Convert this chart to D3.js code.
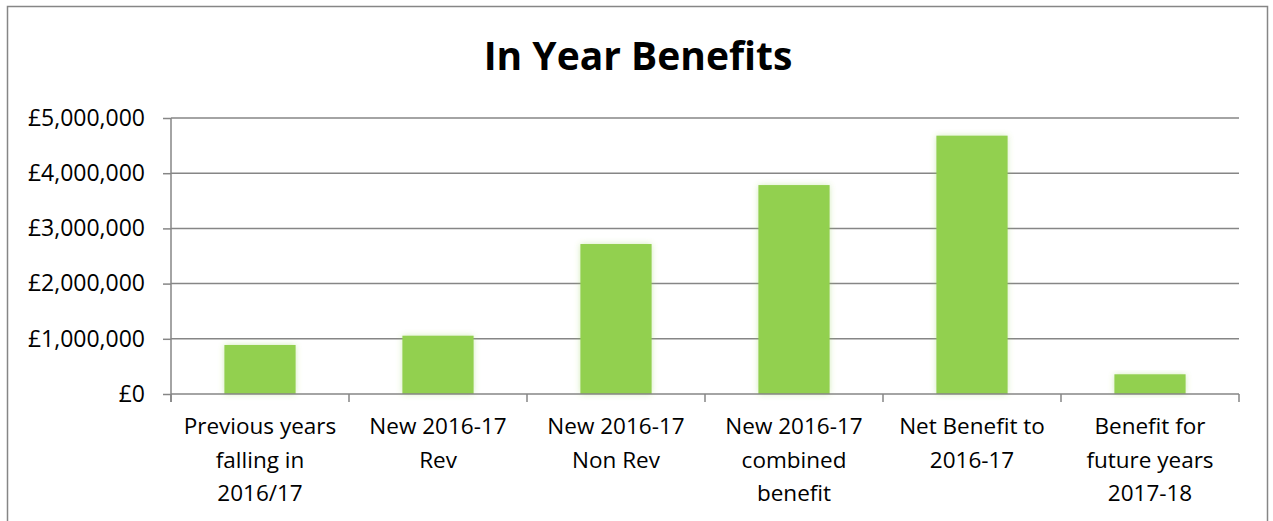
<!DOCTYPE html>
<html>
<head>
<meta charset="utf-8">
<script src="https://cdn.jsdelivr.net/npm/d3@7"></script>
<style>
	body { margin: 0; background: #fff; }
	svg text { font-family: "Open Sans", sans-serif; fill: #000; }
	.axis path, .axis line { stroke: #868686; stroke-width: 1.5; }
	.grid line { stroke: #868686; stroke-width: 1.5; }
</style>
</head>
<body>
<svg class="chart"></svg>
<script>
/* In Year Benefits - bar chart */

var categories = [
	["Previous years", "falling in", "2016/17"],
	["New 2016-17", "Rev"],
	["New 2016-17", "Non Rev"],
	["New 2016-17", "combined", "benefit"],
	["Net Benefit to", "2016-17"],
	["Benefit for", "future years", "2017-18"]
];
var values = [888000, 1056000, 2717000, 3785000, 4680000, 357000];
var yTicks = [0, 1000000, 2000000, 3000000, 4000000, 5000000];
var title = "In Year Benefits";

function drawBarGraph() {
	var W = 1273, H = 521;
	var margin = {top: 118, right: 34, bottom: 127, left: 171},
		width = 1239 - margin.left,
		height = 394 - margin.top;

	var svg = d3.select(".chart")
		.attr("width", W)
		.attr("height", H);

	// soft glow around the bars
	var filter = svg.append("defs").append("filter")
		.attr("id", "glow")
		.attr("x", "-20%").attr("y", "-20%")
		.attr("width", "140%").attr("height", "140%");
	filter.append("feGaussianBlur")
		.attr("in", "SourceGraphic")
		.attr("stdDeviation", 3)
		.attr("result", "blur");
	filter.append("feComponentTransfer")
		.attr("in", "blur")
		.attr("result", "soft")
	  .append("feFuncA")
		.attr("type", "linear")
		.attr("slope", 0.4);
	var merge = filter.append("feMerge");
	merge.append("feMergeNode").attr("in", "soft");
	merge.append("feMergeNode").attr("in", "SourceGraphic");

	// outer chart border
	svg.append("rect")
		.attr("x", 7.5).attr("y", 6.5)
		.attr("width", 1260).attr("height", 530)
		.attr("fill", "none")
		.attr("stroke", "#868686")
		.attr("stroke-width", 1.5);

	svg.append("text")
		.attr("x", 638)
		.attr("y", 70)
		.attr("text-anchor", "middle")
		.style("font-size", "39px")
		.style("font-weight", "bold")
		.text(title);

	var x = d3.scaleBand()
		.domain(d3.range(categories.length))
		.range([0, width])
		.paddingInner(0.6)
		.paddingOuter(0.3);

	var y = d3.scaleLinear()
		.domain([0, 5000000])
		.range([height, 0]);

	var chart = svg.append("g")
		.attr("transform", "translate(" + margin.left + "," + margin.top + ")");

	// horizontal gridlines
	chart.append("g")
		.attr("class", "grid")
		.selectAll("line")
		.data(yTicks.slice(1))
	  .enter().append("line")
		.attr("x1", 0).attr("x2", width)
		.attr("y1", function(d) { return y(d); })
		.attr("y2", function(d) { return y(d); });

	// y axis
	var yAxis = d3.axisLeft(y)
		.tickValues(yTicks)
		.tickSize(8)
		.tickPadding(18)
		.tickFormat(function(d) { return "£" + d3.format(",")(d); });
	var yg = chart.append("g")
		.attr("class", "y axis")
		.call(yAxis);
	yg.select(".domain").attr("d", "M0,0V" + (height + 8));
	yg.selectAll("text").style("font-size", "23px");

	// bars
	chart.selectAll(".bar")
		.data(values)
	  .enter().append("rect")
		.attr("class", "bar")
		.attr("x", function(d, i) { return x(i); })
		.attr("y", function(d) { return y(d); })
		.attr("width", x.bandwidth())
		.attr("height", function(d) { return height - y(d); })
		.attr("fill", "#92D050")
		.attr("filter", "url(#glow)");

	// x axis line and category ticks
	var step = width / categories.length;
	var xg = chart.append("g")
		.attr("class", "x axis")
		.attr("transform", "translate(0," + height + ")");
	xg.append("path").attr("d", "M0,0H" + width);
	xg.selectAll(".tick")
		.data(d3.range(categories.length + 1))
	  .enter().append("line")
		.attr("x1", function(d) { return d * step; })
		.attr("x2", function(d) { return d * step; })
		.attr("y1", 0).attr("y2", 8);

	// category labels
	var labels = xg.selectAll(".lbl")
		.data(categories)
	  .enter().append("text")
		.attr("class", "lbl")
		.attr("text-anchor", "middle")
		.attr("transform", function(d, i) { return "translate(" + (x(i) + x.bandwidth() / 2) + ",40)"; })
		.style("font-size", "22.5px");
	labels.selectAll("tspan")
		.data(function(d) { return d; })
	  .enter().append("tspan")
		.attr("x", 0)
		.attr("y", function(d, j) { return j * 33.7; })
		.text(function(d) { return d; });
}

drawBarGraph();
</script>
</body>
</html>
